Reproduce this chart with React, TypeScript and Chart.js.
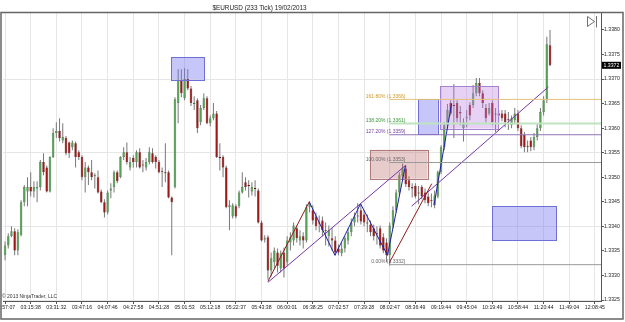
import React, { useEffect, useRef } from 'react';
import { Chart, registerables } from 'chart.js';

Chart.register(...registerables);

const chartTitle = '$EURUSD (233 Tick) 19/02/2013';
const copyrightText = '\u00A9 2013 NinjaTrader, LLC';

// x axis: one time label every 8 bars
const timeLabels = [
  '02:57:07', '03:15:38', '03:31:32', '03:47:16', '04:07:46', '04:27:58', '04:51:28', '05:01:53',
  '05:12:18', '05:22:37', '05:43:38', '06:00:01', '06:38:25', '07:02:57', '07:29:28', '08:02:47',
  '08:36:49', '09:19:44', '09:45:04', '10:19:49', '10:58:44', '11:20:44', '11:49:04', '12:08:45',
];
const barsPerTimeLabel = 8;
const priceTicks = [1.3325, 1.333, 1.3335, 1.334, 1.3345, 1.335, 1.3355, 1.336, 1.3365, 1.337, 1.3375, 1.338];
const priceGridBase = 1.3325;
const priceGridStep = 0.0015;
const xMin = -0.64;
const xMax = 185.9;
const yMin = 1.33248;
const yMax = 1.338345;

const opens = [
  1.33341, 1.33361, 1.33380, 1.33390, 1.33351, 1.33382, 1.33449, 1.33471, 1.33480, 1.33471,
  1.33477, 1.33480, 1.33531, 1.33520, 1.33471, 1.33541, 1.33590, 1.33594, 1.33575, 1.33580,
  1.33571, 1.33561, 1.33569, 1.33551, 1.33541, 1.33500, 1.33520, 1.33510, 1.33502, 1.33500,
  1.33471, 1.33449, 1.33428, 1.33473, 1.33480, 1.33510, 1.33500, 1.33541, 1.33551, 1.33520,
  1.33539, 1.33531, 1.33551, 1.33526, 1.33520, 1.33531, 1.33549, 1.33541, 1.33531, 1.33512,
  1.33510, 1.33510, 1.33459, 1.33480, 1.33651, 1.33698, 1.33661, 1.33700, 1.33681, 1.33649,
  1.33657, 1.33612, 1.33641, 1.33661, 1.33610, 1.33620, 1.33630, 1.33541, 1.33541, 1.33520,
  1.33439, 1.33420, 1.33441, 1.33441, 1.33469, 1.33490, 1.33484, 1.33471, 1.33477, 1.33473,
  1.33408, 1.33373, 1.33378, 1.33310, 1.33327, 1.33347, 1.33314, 1.33347, 1.33327, 1.33367,
  1.33371, 1.33396, 1.33371, 1.33380, 1.33371, 1.33439, 1.33433, 1.33420, 1.33408, 1.33412,
  1.33392, 1.33380, 1.33376, 1.33371, 1.33355, 1.33345, 1.33355, 1.33371, 1.33388, 1.33408,
  1.33422, 1.33433, 1.33424, 1.33408, 1.33404, 1.33396, 1.33386, 1.33396, 1.33378, 1.33367,
  1.33341, 1.33402, 1.33433, 1.33469, 1.33502, 1.33518, 1.33494, 1.33480, 1.33482, 1.33469,
  1.33480, 1.33469, 1.33461, 1.33453, 1.33443, 1.33461, 1.33510, 1.33561, 1.33606, 1.33651,
  1.33647, 1.33651, 1.33633, 1.33600, 1.33620, 1.33647, 1.33647, 1.33671, 1.33692, 1.33671,
  1.33641, 1.33630, 1.33651, 1.33630, 1.33630, 1.33630, 1.33630, 1.33618, 1.33606, 1.33616,
  1.33630, 1.33600, 1.33586, 1.33563, 1.33575, 1.33561, 1.33582, 1.33600, 1.33633, 1.33657,
  1.33769,
];
const highs = [
  1.33369, 1.33386, 1.33400, 1.33396, 1.33394, 1.33453, 1.33484, 1.33500, 1.33510, 1.33492,
  1.33492, 1.33535, 1.33549, 1.33524, 1.33543, 1.33600, 1.33612, 1.33620, 1.33610, 1.33584,
  1.33573, 1.33575, 1.33573, 1.33555, 1.33545, 1.33531, 1.33524, 1.33535, 1.33508, 1.33514,
  1.33475, 1.33455, 1.33473, 1.33488, 1.33514, 1.33514, 1.33543, 1.33561, 1.33571, 1.33541,
  1.33545, 1.33555, 1.33559, 1.33535, 1.33539, 1.33561, 1.33559, 1.33545, 1.33535, 1.33520,
  1.33569, 1.33514, 1.33461, 1.33663, 1.33720, 1.33720, 1.33722, 1.33720, 1.33686, 1.33665,
  1.33661, 1.33647, 1.33671, 1.33665, 1.33626, 1.33651, 1.33635, 1.33569, 1.33545, 1.33524,
  1.33453, 1.33447, 1.33445, 1.33473, 1.33510, 1.33500, 1.33494, 1.33490, 1.33494, 1.33477,
  1.33412, 1.33382, 1.33382, 1.33347, 1.33357, 1.33355, 1.33351, 1.33357, 1.33380, 1.33388,
  1.33408, 1.33402, 1.33392, 1.33388, 1.33445, 1.33451, 1.33443, 1.33428, 1.33422, 1.33420,
  1.33408, 1.33402, 1.33396, 1.33380, 1.33363, 1.33367, 1.33380, 1.33396, 1.33416, 1.33428,
  1.33447, 1.33445, 1.33433, 1.33424, 1.33412, 1.33404, 1.33400, 1.33402, 1.33386, 1.33376,
  1.33408, 1.33441, 1.33475, 1.33510, 1.33528, 1.33524, 1.33502, 1.33488, 1.33488, 1.33482,
  1.33484, 1.33477, 1.33469, 1.33467, 1.33473, 1.33514, 1.33565, 1.33612, 1.33649, 1.33657,
  1.33690, 1.33657, 1.33645, 1.33620, 1.33637, 1.33653, 1.33688, 1.33702, 1.33702, 1.33677,
  1.33649, 1.33651, 1.33657, 1.33641, 1.33637, 1.33637, 1.33637, 1.33633, 1.33626, 1.33641,
  1.33637, 1.33606, 1.33592, 1.33575, 1.33582, 1.33590, 1.33608, 1.33641, 1.33665, 1.33786,
  1.33800,
];
const lows = [
  1.33331, 1.33355, 1.33378, 1.33341, 1.33341, 1.33380, 1.33441, 1.33441, 1.33461, 1.33459,
  1.33449, 1.33473, 1.33504, 1.33469, 1.33469, 1.33539, 1.33580, 1.33573, 1.33569, 1.33545,
  1.33539, 1.33555, 1.33520, 1.33535, 1.33494, 1.33469, 1.33484, 1.33494, 1.33477, 1.33467,
  1.33447, 1.33418, 1.33424, 1.33457, 1.33469, 1.33488, 1.33498, 1.33535, 1.33526, 1.33514,
  1.33520, 1.33520, 1.33518, 1.33510, 1.33514, 1.33526, 1.33528, 1.33518, 1.33508, 1.33480,
  1.33490, 1.33457, 1.33341, 1.33477, 1.33610, 1.33663, 1.33657, 1.33677, 1.33645, 1.33637,
  1.33590, 1.33606, 1.33637, 1.33608, 1.33604, 1.33616, 1.33539, 1.33514, 1.33500, 1.33437,
  1.33392, 1.33416, 1.33416, 1.33437, 1.33467, 1.33473, 1.33459, 1.33463, 1.33461, 1.33406,
  1.33369, 1.33367, 1.33292, 1.33298, 1.33314, 1.33306, 1.33306, 1.33296, 1.33320, 1.33351,
  1.33361, 1.33367, 1.33361, 1.33355, 1.33367, 1.33428, 1.33404, 1.33392, 1.33388, 1.33380,
  1.33361, 1.33359, 1.33351, 1.33341, 1.33341, 1.33339, 1.33347, 1.33363, 1.33380, 1.33400,
  1.33408, 1.33404, 1.33400, 1.33388, 1.33380, 1.33371, 1.33363, 1.33355, 1.33345, 1.33327,
  1.33320, 1.33396, 1.33428, 1.33463, 1.33494, 1.33480, 1.33473, 1.33459, 1.33457, 1.33445,
  1.33455, 1.33447, 1.33441, 1.33439, 1.33437, 1.33457, 1.33506, 1.33555, 1.33600, 1.33626,
  1.33580, 1.33612, 1.33606, 1.33573, 1.33602, 1.33616, 1.33641, 1.33665, 1.33665, 1.33641,
  1.33612, 1.33626, 1.33606, 1.33592, 1.33612, 1.33614, 1.33602, 1.33596, 1.33600, 1.33608,
  1.33594, 1.33559, 1.33551, 1.33551, 1.33553, 1.33555, 1.33575, 1.33594, 1.33626, 1.33651,
  1.33726,
];
const closes = [
  1.33361, 1.33380, 1.33390, 1.33351, 1.33388, 1.33449, 1.33480, 1.33480, 1.33471, 1.33480,
  1.33480, 1.33531, 1.33510, 1.33471, 1.33541, 1.33590, 1.33594, 1.33580, 1.33582, 1.33549,
  1.33549, 1.33571, 1.33541, 1.33541, 1.33500, 1.33520, 1.33510, 1.33500, 1.33504, 1.33469,
  1.33449, 1.33428, 1.33469, 1.33477, 1.33510, 1.33492, 1.33541, 1.33551, 1.33531, 1.33531,
  1.33531, 1.33551, 1.33520, 1.33524, 1.33531, 1.33551, 1.33531, 1.33531, 1.33510, 1.33510,
  1.33508, 1.33459, 1.33449, 1.33659, 1.33698, 1.33671, 1.33700, 1.33681, 1.33651, 1.33651,
  1.33600, 1.33641, 1.33661, 1.33610, 1.33620, 1.33630, 1.33541, 1.33539, 1.33520, 1.33439,
  1.33443, 1.33443, 1.33420, 1.33469, 1.33480, 1.33480, 1.33482, 1.33480, 1.33476, 1.33408,
  1.33371, 1.33376, 1.33310, 1.33335, 1.33351, 1.33320, 1.33345, 1.33314, 1.33371, 1.33378,
  1.33402, 1.33376, 1.33380, 1.33371, 1.33439, 1.33447, 1.33412, 1.33400, 1.33406, 1.33392,
  1.33390, 1.33392, 1.33371, 1.33347, 1.33347, 1.33355, 1.33376, 1.33388, 1.33408, 1.33420,
  1.33420, 1.33410, 1.33408, 1.33406, 1.33388, 1.33380, 1.33384, 1.33361, 1.33351, 1.33341,
  1.33402, 1.33433, 1.33469, 1.33504, 1.33518, 1.33486, 1.33480, 1.33477, 1.33461, 1.33467,
  1.33461, 1.33453, 1.33447, 1.33451, 1.33463, 1.33510, 1.33561, 1.33606, 1.33637, 1.33630,
  1.33645, 1.33620, 1.33630, 1.33612, 1.33622, 1.33626, 1.33671, 1.33692, 1.33671, 1.33651,
  1.33620, 1.33641, 1.33612, 1.33628, 1.33626, 1.33620, 1.33612, 1.33616, 1.33620, 1.33630,
  1.33600, 1.33563, 1.33561, 1.33561, 1.33561, 1.33582, 1.33600, 1.33633, 1.33657, 1.33771,
  1.33728,
];

// drawing objects (bar index, price)
const redLines = [
  [[82.0, 1.33288], [94.9, 1.3345]],
  [[119.9, 1.33326], [133.1, 1.33487]],
];
const purpleLines = [
  [[82.0, 1.33286], [124.9, 1.33524]],
  [[126.8, 1.33441], [169.5, 1.33684]],
];
const blueLines = [
  [[94.9, 1.3345], [102.9, 1.33341], [110.9, 1.33446], [119.3, 1.33341], [124.9, 1.33524]],
  [[133.8, 1.33443], [139.3, 1.3365]],
];
// boxes: [startIndex, endIndex, lowPrice, highPrice]
const boxes = [
  [51.8, 62.1, 1.33699, 1.33745],
  [113.8, 131.8, 1.33497, 1.33556],
  [128.9, 135.0, 1.33588, 1.33659],
  [135.7, 153.9, 1.33599, 1.33686],
  [152.0, 171.9, 1.33371, 1.33441],
];
const boxFills = [
  'rgba(120,120,240,0.42)', 'rgba(190,110,110,0.35)', 'rgba(120,120,240,0.42)',
  'rgba(185,125,230,0.35)', 'rgba(120,120,240,0.42)',
];
const boxStrokes = ['#6f6fd8', '#b07c7c', '#6f6fd8', '#a583cf', '#6f6fd8'];

const fibLow = 1.33322;
const fibHigh = 1.3353;
const fibStartIndex = 119.9;
const fibEndIndex = 124.9;
const fibRatios = [0, 1, 1.272, 1.382, 1.618];
const fibLineColors = ['#9a9a9a', '#9a9a9a', '#9275b5', '#bfe3bf', '#e3c27a'];
const fibTextColors = ['#666666', '#666666', '#7a3f9e', '#3a9a3a', '#d29a22'];
const fibLineWidths = [1, 1, 1, 2, 1];

const UP = '#55a055';
const UP_BORDER = '#3f6f3f';
const DOWN = '#9e1818';
const DOWN_BORDER = '#641010';
const DOJI = '#8a8a8a';
const AXIS = '#555555';
const GRID = '#e6e6e6';
const FONT = "'Liberation Sans', Arial, sans-serif";

function fibPrice(r: number) {
  return fibLow + r * (fibHigh - fibLow);
}

export default function App() {
  const ref = useRef<HTMLCanvasElement>(null);

  useEffect(() => {
    const canvas = ref.current;
    if (!canvas) return;
    Chart.defaults.font.family = FONT;
    const n = opens.length;
    const idx = Array.from({ length: n }, (_, i) => i);
    const bodyColors = idx.map((i) => (closes[i] > opens[i] ? UP : closes[i] < opens[i] ? DOWN : DOJI));
    const bodyBorders = idx.map((i) => (closes[i] > opens[i] ? UP_BORDER : closes[i] < opens[i] ? DOWN_BORDER : DOJI));

    const lineDs = (pts: number[][], color: string, width: number) => ({
      type: 'line' as const,
      data: pts.map(([x, y]) => ({ x, y })),
      borderColor: color,
      borderWidth: width,
      pointRadius: 0,
      fill: false,
      tension: 0,
      order: 1,
    });

    const datasets: any[] = [
      {
        type: 'bar',
        label: 'wick',
        data: idx.map((i) => ({ x: i, y: [lows[i], highs[i]] })),
        backgroundColor: '#777777',
        borderWidth: 0,
        grouped: false,
        barPercentage: 1,
        maxBarThickness: 1,
        order: 3,
      },
      {
        type: 'bar',
        label: 'body',
        data: idx.map((i) => ({ x: i, y: [opens[i], closes[i]] })),
        backgroundColor: bodyColors,
        borderColor: bodyBorders,
        borderWidth: 0.5,
        borderSkipped: false,
        grouped: false,
        barPercentage: 1,
        maxBarThickness: 3,
        minBarLength: 1,
        order: 2,
      },
    ];
    fibRatios.forEach((r, i) => {
      datasets.push(lineDs([[fibStartIndex, fibPrice(r)], [xMax, fibPrice(r)]], fibLineColors[i], fibLineWidths[i]));
    });
    redLines.forEach((l) => datasets.push(lineDs(l, '#8e1b1b', 1)));
    purpleLines.forEach((l) => datasets.push(lineDs(l, '#7434a8', 1)));
    blueLines.forEach((l) => datasets.push(lineDs(l, '#1f1fa3', 1)));

    const isGridPrice = (v: number) => {
      const q = (v - priceGridBase) / priceGridStep;
      return Math.abs(q - Math.round(q)) < 1e-6;
    };

    const overlay = {
      id: 'overlay',
      beforeDraw(chart: any) {
        const ctx = chart.ctx;
        ctx.save();
        ctx.fillStyle = '#ffffff';
        ctx.fillRect(0, 0, chart.width, chart.height);
        ctx.restore();
      },
      afterDatasetDraw(chart: any, args: any) {
        if (args.index !== 1) return;
        const { ctx, chartArea } = chart;
        const xs = chart.scales.x;
        const ys = chart.scales.y;
        ctx.save();
        ctx.beginPath();
        ctx.rect(chartArea.left, chartArea.top, chartArea.right - chartArea.left, chartArea.bottom - chartArea.top);
        ctx.clip();
        boxes.forEach((b, i) => {
          const x0 = xs.getPixelForValue(b[0]);
          const x1 = xs.getPixelForValue(b[1]);
          const yTop = ys.getPixelForValue(b[3]);
          const yBot = ys.getPixelForValue(b[2]);
          ctx.fillStyle = boxFills[i];
          ctx.fillRect(x0, yTop, x1 - x0, yBot - yTop);
          ctx.strokeStyle = boxStrokes[i];
          ctx.lineWidth = 1;
          ctx.strokeRect(Math.round(x0) + 0.5, Math.round(yTop) + 0.5, Math.round(x1 - x0), Math.round(yBot - yTop));
        });
        ctx.restore();
      },
      afterDraw(chart: any) {
        const { ctx } = chart;
        const xs = chart.scales.x;
        const ys = chart.scales.y;
        ctx.save();
        // fib labels
        ctx.font = `5px ${FONT}`;
        ctx.textAlign = 'right';
        ctx.textBaseline = 'alphabetic';
        const fx = xs.getPixelForValue(fibEndIndex);
        fibRatios.forEach((r, i) => {
          const p = fibPrice(r);
          const py = ys.getPixelForValue(p);
          ctx.fillStyle = fibTextColors[i];
          ctx.fillText(`${(r * 100).toFixed(2)}% (${p.toFixed(4)})`, fx, py - 1.6);
        });
        // copyright
        ctx.textAlign = 'left';
        ctx.textBaseline = 'middle';
        ctx.fillStyle = '#333333';
        ctx.font = `5px ${FONT}`;
        ctx.fillText(copyrightText, 2, 297);
        // title
        ctx.textAlign = 'center';
        ctx.font = `6.4px ${FONT}`;
        ctx.fillStyle = '#222222';
        ctx.fillText(chartTitle, 259.5, 8);
        // outer frame
        ctx.strokeStyle = '#666666';
        ctx.lineWidth = 1.5;
        ctx.strokeRect(1, 12.5, 622, 306.5);
        // last price marker
        const last = closes[closes.length - 1];
        const ly = ys.getPixelForValue(last);
        ctx.fillStyle = '#000000';
        ctx.fillRect(602, ly - 3.5, 19, 7);
        ctx.fillStyle = '#ffffff';
        ctx.font = `5.2px ${FONT}`;
        ctx.textAlign = 'left';
        ctx.fillText((Math.floor(last * 10000) / 10000).toFixed(4), 603.5, ly + 0.3);
        // scroll-to-end icon
        ctx.strokeStyle = '#6f6f6f';
        ctx.lineWidth = 1;
        ctx.beginPath();
        ctx.moveTo(587.5, 16.5);
        ctx.lineTo(594.5, 21.5);
        ctx.lineTo(587.5, 26.5);
        ctx.closePath();
        ctx.moveTo(596.5, 16);
        ctx.lineTo(596.5, 27.5);
        ctx.stroke();
        ctx.restore();
      },
    };

    const chart = new Chart(canvas, {
      type: 'bar',
      data: { datasets },
      options: {
        animation: false,
        responsive: false,
        devicePixelRatio: 1,
        events: [],
        layout: { padding: { left: 3, top: 13, right: 0, bottom: 0 } },
        plugins: {
          legend: { display: false },
          tooltip: { enabled: false },
          title: { display: false },
        },
        scales: {
          x: {
            type: 'linear',
            min: xMin,
            max: xMax,
            bounds: 'data',
            offset: false,
            afterBuildTicks: (scale: any) => {
              scale.ticks = timeLabels.map((_, i) => ({ value: i * barsPerTimeLabel }));
            },
            afterFit: (scale: any) => {
              scale.height = 21;
              scale.paddingLeft = 0;
              scale.paddingRight = 0;
            },
            ticks: {
              autoSkip: false,
              maxRotation: 0,
              minRotation: 0,
              padding: 0,
              color: '#222222',
              font: { size: 5.2, family: FONT },
              callback: (_v: any, i: number) => timeLabels[i] ?? '',
            },
            grid: { color: GRID, lineWidth: 1, tickLength: 3, tickColor: AXIS, offset: false, drawTicks: true },
            border: { display: true, color: AXIS, width: 1 },
          },
          y: {
            type: 'linear',
            position: 'right',
            min: yMin,
            max: yMax,
            bounds: 'data',
            stacked: false,
            afterBuildTicks: (scale: any) => {
              scale.ticks = priceTicks.map((v) => ({ value: v }));
            },
            afterFit: (scale: any) => {
              scale.width = 24;
              scale.paddingTop = 0;
              scale.paddingBottom = 0;
            },
            ticks: {
              padding: 0,
              color: '#222222',
              font: { size: 5.2, family: FONT },
              callback: (v: any) => Number(v).toFixed(4),
            },
            grid: {
              color: (c: any) => (c.tick && isGridPrice(c.tick.value) ? GRID : 'rgba(0,0,0,0)'),
              lineWidth: 1,
              tickLength: 3,
              tickColor: AXIS,
              drawTicks: true,
            },
            border: { display: true, color: AXIS, width: 1 },
          },
        },
      } as any,
      plugins: [overlay],
    });
    return () => chart.destroy();
  }, []);

  return (
    <div style={{ position: 'fixed', left: 0, top: 0, width: 625, height: 322, background: '#ffffff' }}>
      <canvas ref={ref} width={625} height={322} style={{ display: 'block', width: 625, height: 322 }} />
    </div>
  );
}
